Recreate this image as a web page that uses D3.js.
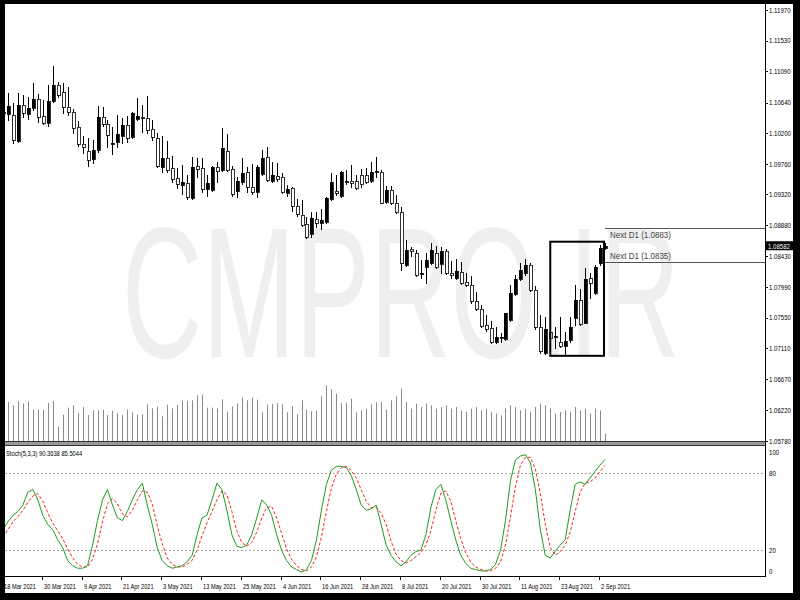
<!DOCTYPE html>
<html><head><meta charset="utf-8">
<script src="https://cdn.jsdelivr.net/npm/d3@7"></script>
<style>html,body{margin:0;padding:0;background:#000;}svg{display:block;}</style>
</head><body>
<svg id="c" width="800" height="600"></svg>
<script>
// ---------- data ----------
const openP = [1.1049,1.1048,1.1046,1.1009,1.1060,1.1048,1.1056,1.1069,1.1045,1.1035,
1.1066,1.1089,1.1079,1.1058,1.1050,1.1029,1.1004,1.0994,1.0983,1.0996,
1.1043,1.1033,1.1004,1.1007,1.1016,1.1032,1.1015,1.1040,1.1043,1.1042,
1.1026,1.1013,1.0971,1.0984,1.0970,1.0956,1.0946,1.0948,1.0927,1.0973,
1.0970,1.0940,1.0938,1.0971,1.0967,1.0994,1.0969,1.0937,1.0950,1.0964,
1.0943,1.0936,1.0961,1.0986,1.0951,1.0959,1.0957,1.0934,1.0941,1.0915,
1.0902,1.0890,1.0875,1.0897,1.0891,1.0892,1.0925,1.0937,1.0930,1.0950,
1.0951,1.0951,1.0960,1.0960,1.0951,1.0964,1.0964,1.0921,1.0938,1.0920,
1.0907,1.0831,1.0854,1.0848,1.0818,1.0828,1.0833,1.0848,1.0832,1.0851,
1.0819,1.0812,1.0821,1.0806,1.0802,1.0779,1.0767,1.0744,1.0740,1.0720,
1.0726,1.0724,1.0752,1.0789,1.0810,1.0819,1.0831,1.0795,1.0742,1.0704,
1.0734,1.0727,1.0720,1.0714,1.0723,1.0754,1.0780,1.0747,1.0812,1.0790,
1.0833,1.0855];
const highP = [1.1053,1.1078,1.1063,1.1078,1.1075,1.1072,1.1092,1.1076,1.1068,1.1089,
1.1117,1.1094,1.1092,1.1086,1.1055,1.1038,1.1016,1.1013,1.1010,1.1059,
1.1058,1.1039,1.1029,1.1046,1.1042,1.1045,1.1050,1.1071,1.1060,1.1073,
1.1039,1.1020,1.1016,1.1009,1.0987,1.0970,1.0974,1.0960,1.0986,1.0984,
1.0984,1.0960,1.0973,1.0979,1.1027,1.1019,1.0973,1.0957,1.0984,1.0971,
1.0976,1.0974,1.0996,1.1000,1.0979,1.0977,1.0963,1.0946,1.0943,1.0925,
1.0924,1.0900,1.0907,1.0907,1.0911,1.0928,1.0963,1.0960,1.0966,1.0967,
1.0974,1.0960,1.0969,1.0970,1.0979,1.0986,1.0967,1.0944,1.0944,1.0931,
1.0914,1.0867,1.0856,1.0852,1.0838,1.0848,1.0862,1.0858,1.0856,1.0854,
1.0836,1.0839,1.0835,1.0819,1.0815,1.0792,1.0773,1.0759,1.0750,1.0742,
1.0733,1.0762,1.0802,1.0816,1.0833,1.0839,1.0833,1.0800,1.0759,1.0756,
1.0756,1.0742,1.0756,1.0734,1.0756,1.0802,1.0796,1.0826,1.0819,1.0831,
1.0859,1.0862];
const lowP = [1.1045,1.1039,1.1006,1.1008,1.1043,1.1040,1.1053,1.1036,1.1033,1.1030,
1.1065,1.1072,1.1049,1.1046,1.1020,1.1002,1.0992,1.0973,1.0977,1.0993,
1.1030,1.1000,1.0990,1.1000,1.1006,1.1007,1.1013,1.1039,1.1022,1.1020,
1.1010,1.0971,1.0964,1.0964,1.0950,1.0941,1.0933,1.0925,1.0925,1.0957,
1.0936,1.0930,1.0937,1.0950,1.0966,1.0966,1.0930,1.0928,1.0947,1.0936,
1.0933,1.0928,1.0960,1.0951,1.0950,1.0951,1.0934,1.0930,1.0908,1.0901,
1.0887,1.0869,1.0871,1.0885,1.0882,1.0891,1.0924,1.0931,1.0928,1.0947,
1.0943,1.0940,1.0943,1.0948,1.0950,1.0957,1.0919,1.0919,1.0918,1.0905,
1.0823,1.0829,1.0844,1.0815,1.0812,1.0805,1.0832,1.0826,1.0819,1.0818,
1.0812,1.0810,1.0803,1.0800,1.0776,1.0766,1.0742,1.0736,1.0718,1.0718,
1.0720,1.0723,1.0750,1.0787,1.0809,1.0816,1.0793,1.0739,1.0704,1.0703,
1.0723,1.0711,1.0713,1.0700,1.0720,1.0744,1.0744,1.0747,1.0783,1.0789,
1.0831,1.0853];
const closeP = [1.1050,1.1059,1.1010,1.1060,1.1049,1.1056,1.1069,1.1043,1.1035,1.1066,
1.1089,1.1075,1.1058,1.1050,1.1027,1.1004,1.1000,1.0981,1.0996,1.1043,
1.1033,1.1017,1.1006,1.1019,1.1032,1.1013,1.1049,1.1045,1.1042,1.1025,
1.1015,1.0973,1.0984,1.0967,1.0954,1.0947,1.0950,1.0928,1.0971,1.0969,
1.0940,1.0948,1.0971,1.0966,1.0999,1.0967,1.0933,1.0951,1.0963,1.0943,
1.0936,1.0971,1.0984,1.0953,1.0960,1.0954,1.0936,1.0940,1.0915,1.0904,
1.0888,1.0871,1.0898,1.0891,1.0895,1.0927,1.0950,1.0934,1.0964,1.0951,
1.0948,1.0941,1.0947,1.0950,1.0964,1.0965,1.0920,1.0938,1.0920,1.0907,
1.0833,1.0852,1.0851,1.0816,1.0819,1.0838,1.0852,1.0828,1.0851,1.0819,
1.0816,1.0822,1.0805,1.0802,1.0779,1.0767,1.0743,1.0739,1.0720,1.0727,
1.0727,1.0762,1.0790,1.0810,1.0823,1.0831,1.0795,1.0742,1.0707,1.0739,
1.0726,1.0728,1.0714,1.0721,1.0742,1.0780,1.0746,1.0810,1.0805,1.0828,
1.0855,1.08582];
const volumes = [1000,1200,1100,1220,1150,1220,970,970,970,1170,
1230,470,820,1030,1100,870,1050,810,950,950,
970,810,940,870,810,970,890,820,840,1130,
1010,1060,770,1120,1010,1110,1250,1230,1250,1400,
1420,1030,1030,1000,1280,910,1070,1150,1330,1250,
1330,1270,890,1120,1140,1170,1130,890,1080,830,
1250,970,920,940,1370,1700,1580,1450,1170,1180,
1300,890,950,1000,1130,1190,1210,970,1250,1370,
1600,1200,1000,1150,1050,1150,1100,1000,1050,1100,
1000,1050,950,900,1000,1050,950,1000,900,850,
800,1000,1100,1050,950,1000,900,1050,1150,1100,
1000,850,900,950,900,1050,950,1000,850,1000,
950,250];
const stochK = [36,42,47,50,55,65,67,59,47,40,
36,28,22,12,8,6,6,8,24,43,
59,67,55,45,43,50,59,67,72,55,
40,22,12,8,6,7,8,11,16,32,
45,47,59,72,67,51,32,23,22,24,
32,45,59,55,47,32,20,12,7,5,
3,5,12,28,51,71,82,85,85,84,
78,67,55,51,52,55,40,24,16,11,
8,11,16,19,20,32,53,67,71,59,
43,28,16,10,6,5,4,4,5,9,
20,43,74,90,93,94,88,67,36,16,
14,19,24,28,51,71,73,71,76,81,
86,90.3638];
const stochD = [30,36,42,46,51,57,62,64,58,49,
41,35,29,21,14,9,7,7,13,25,
42,56,60,56,48,46,51,59,66,65,
56,39,25,14,9,7,7,9,12,20,
31,41,50,59,66,63,50,35,26,23,
26,34,45,53,54,45,33,21,13,8,
5,4,7,15,30,50,68,79,84,85,
82,76,67,58,53,53,49,40,27,17,
12,10,12,15,18,24,35,51,64,66,
58,43,29,18,11,7,5,4,4,6,
11,24,46,69,86,92,92,83,64,40,
22,16,19,24,34,50,65,72,73,76,
81,85.5044];
const priceTicks = ["1.11970","1.11530","1.11090","1.10640","1.10200","1.09760","1.09320","1.08880","1.08430","1.07990","1.07550","1.07110","1.06670","1.06220","1.05780"];
const dateTicks = ["18 Mar 2021","30 Mar 2021","9 Apr 2021","21 Apr 2021","3 May 2021","13 May 2021","25 May 2021","4 Jun 2021","16 Jun 2021","28 Jun 2021","8 Jul 2021","20 Jul 2021","30 Jul 2021","11 Aug 2021","23 Aug 2021","2 Sep 2021"];
const stochLevels = [100, 80, 20, 0];
const nextD1Values = [1.0883, 1.0835];
const nextD1Labels = ["Next D1 (1.0883)", "Next D1 (1.0835)"];
const lastPrice = 1.08582;
const boxBars = [110, 121];
const boxPrices = [1.0864, 1.0700];
const stochTitle = "Stoch(5,3,3) 90.3638 85.5044";
const watermark = "CMPRO.IR";

// categories: trading days
const dates = d3.timeDay.range(new Date(2021,2,18), new Date(2021,8,4)).filter(d => d.getDay()%6 !== 0);
const parseD = d3.timeParse("%d %b %Y");

// ---------- scales ----------
const svg = d3.select("#c");
const FONT = "'Liberation Sans', Arial, sans-serif";
const x = d3.scaleLinear().domain([0, dates.length-1]).range([3, 605]);
const y = d3.scaleLinear().domain([1.0578, 1.1197]).range([440.7, 10]);
const yv = d3.scaleLinear().domain([0, 2000]).range([442, 375.3]);
const ys = d3.scaleLinear().domain([0, 100]).range([576, 447]);
const AX = 765;

function squeeze(sel, f){
  sel.each(function(){
    const w = this.getComputedTextLength();
    d3.select(this).attr("textLength", w*f).attr("lengthAdjust","spacingAndGlyphs");
  });
}

svg.append("rect").attr("x",0).attr("y",0).attr("width",800).attr("height",600).attr("fill","#fff");

const defs = svg.append("defs");
defs.append("clipPath").attr("id","pc").append("rect").attr("x",5).attr("y",4).attr("width",AX-5).attr("height",437.5);
defs.append("clipPath").attr("id","sc").append("rect").attr("x",5).attr("y",446).attr("width",AX-5).attr("height",130.5);

// watermark
const wm = svg.append("text").attr("x",122).attr("y",357)
  .attr("font-family",FONT).attr("font-size",186).attr("fill","#efefef")
  .attr("textLength",558).attr("lengthAdjust","spacingAndGlyphs").text(watermark);

const idx = d3.range(dates.length);
const price = svg.append("g").attr("clip-path","url(#pc)");

// volumes
price.append("g").selectAll("line").data(idx).join("line")
  .attr("x1", i => Math.round(x(i))+0.5).attr("x2", i => Math.round(x(i))+0.5)
  .attr("y1", yv(0)).attr("y2", i => yv(volumes[i]))
  .attr("stroke","#8a8a8a").attr("stroke-width",1);

// candles
const cg = price.append("g").attr("shape-rendering","crispEdges");
cg.selectAll("line").data(idx).join("line")
  .attr("x1", i => Math.round(x(i))+0.5).attr("x2", i => Math.round(x(i))+0.5)
  .attr("y1", i => Math.round(y(highP[i]))).attr("y2", i => Math.round(y(lowP[i]))+1)
  .attr("stroke","#000");
cg.selectAll("rect").data(idx).join("rect")
  .attr("x", i => Math.round(x(i))-1)
  .attr("width", 3)
  .attr("y", i => Math.round(y(Math.max(openP[i], closeP[i]))))
  .attr("height", i => Math.max(1, Math.round(y(Math.min(openP[i], closeP[i]))) - Math.round(y(Math.max(openP[i], closeP[i])))))
  .attr("fill", i => closeP[i] > openP[i] ? "#000" : "#fff")
  .attr("stroke","#000").attr("stroke-width",0.8);

// box
svg.append("rect")
  .attr("x", x(boxBars[0])).attr("y", y(boxPrices[0]))
  .attr("width", x(boxBars[1]) - x(boxBars[0]) - 1)
  .attr("height", y(boxPrices[1]) - y(boxPrices[0]))
  .attr("fill","none").attr("stroke","#000").attr("stroke-width",2);

// Next D1 lines
nextD1Values.forEach((v,k) => {
  const yy = Math.round(y(v))+0.5;
  svg.append("line").attr("x1", x(dates.length-1)).attr("x2", AX).attr("y1", yy).attr("y2", yy)
    .attr("stroke","#555").attr("stroke-width",1);
  const t = svg.append("text").attr("x", 610).attr("y", k===0 ? yy+9 : yy-4)
    .attr("font-family",FONT).attr("font-size",9).attr("fill","#444").text(nextD1Labels[k]);
  squeeze(t, 0.89);
});

// separator between panels
svg.append("rect").attr("x",5).attr("y",441).attr("width",AX-5).attr("height",5).attr("fill","#9a9a9a");
svg.append("line").attr("x1",5).attr("x2",AX).attr("y1",441.5).attr("y2",441.5).attr("stroke","#333");
svg.append("line").attr("x1",5).attr("x2",AX).attr("y1",445.5).attr("y2",445.5).attr("stroke","#333");

// stoch panel
const sp = svg.append("g").attr("clip-path","url(#sc)");
[80,20].forEach(l => {
  sp.append("line").attr("x1",5).attr("x2",AX).attr("y1",Math.round(ys(l))+0.5).attr("y2",Math.round(ys(l))+0.5)
    .attr("stroke","#a8a8a8").attr("stroke-dasharray","2,2");
});
sp.append("path").datum(idx).attr("fill","none").attr("stroke","#ff2020").attr("stroke-width",1)
  .attr("stroke-dasharray","3,2")
  .attr("d", d3.line().x(i => x(i)).y(i => ys(stochD[i])));
sp.append("path").datum(idx).attr("fill","none").attr("stroke","#1f9a1f").attr("stroke-width",1)
  .attr("d", d3.line().x(i => x(i)).y(i => ys(stochK[i])));

const st = svg.append("text").attr("x",6).attr("y",456).attr("font-family",FONT).attr("font-size",8).attr("fill","#000").text(stochTitle);
squeeze(st, 0.72);

// axes lines
svg.append("line").attr("x1",AX+0.5).attr("x2",AX+0.5).attr("y1",0).attr("y2",577).attr("stroke","#000");
svg.append("line").attr("x1",0).attr("x2",AX+1).attr("y1",576.5).attr("y2",576.5).attr("stroke","#000");

// price axis
const pa = svg.append("g");
priceTicks.forEach(s => {
  const yy = y(+s);
  pa.append("line").attr("x1",AX).attr("x2",AX+3).attr("y1",Math.round(yy)+0.5).attr("y2",Math.round(yy)+0.5).attr("stroke","#000");
  const t = pa.append("text").attr("x",AX+4).attr("y",yy).attr("dy","0.35em")
    .attr("font-family",FONT).attr("font-size",8).attr("fill","#000").text(s);
  squeeze(t, 0.76);
});
// current price label
const lpY = y(lastPrice);
svg.append("rect").attr("x",AX+1).attr("y",lpY-4.5).attr("width",28).attr("height",9).attr("fill","#000");
const lpt = svg.append("text").attr("x",AX+3).attr("y",lpY).attr("dy","0.35em")
  .attr("font-family",FONT).attr("font-size",8).attr("fill","#fff").text(d3.format(".5f")(lastPrice));
squeeze(lpt, 0.76);

// stoch axis
stochLevels.forEach(l => {
  let yy = ys(l);
  if (l === 100) yy += 5;
  if (l === 0) yy -= 5;
  const t = svg.append("text").attr("x",AX+4).attr("y",yy).attr("dy","0.35em")
    .attr("font-family",FONT).attr("font-size",8).attr("fill","#000").text(l);
  squeeze(t, 0.76);
});

// date axis
dateTicks.forEach(s => {
  const d = parseD(s);
  const i = dates.findIndex(e => +e === +d);
  const xx = Math.round(x(i)) - 0.5;
  svg.append("line").attr("x1",xx).attr("x2",xx).attr("y1",577).attr("y2",580).attr("stroke","#000");
  const t = svg.append("text").attr("x",xx+1.5).attr("y",588.5)
    .attr("font-family",FONT).attr("font-size",8).attr("fill","#000").text(s);
  squeeze(t, 0.71);
});

// outer black frame
svg.append("rect").attr("x",0).attr("y",0).attr("width",800).attr("height",4).attr("fill","#000");
svg.append("rect").attr("x",0).attr("y",0).attr("width",5).attr("height",600).attr("fill","#000");
svg.append("rect").attr("x",793).attr("y",0).attr("width",7).attr("height",600).attr("fill","#000");
svg.append("rect").attr("x",0).attr("y",593).attr("width",800).attr("height",7).attr("fill","#000");
</script>
</body></html>
